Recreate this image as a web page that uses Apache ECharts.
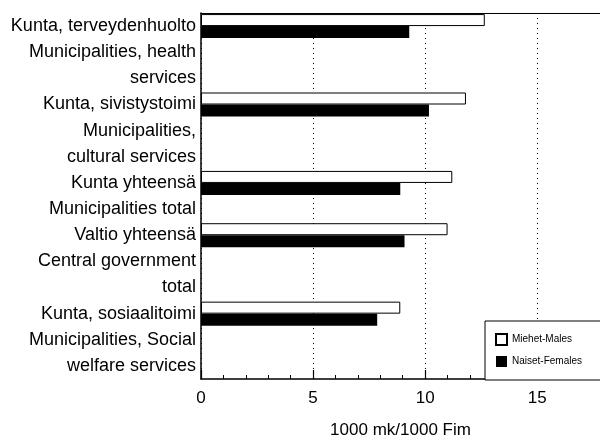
<!DOCTYPE html>
<html>
<head>
<meta charset="utf-8">
<script src="https://cdn.jsdelivr.net/npm/echarts@6/dist/echarts.min.js"></script>
<style>html,body{margin:0;padding:0;background:#fff;}#c{width:600px;height:440px;}</style>
</head>
<body>
<div id="c"></div>
<script>
const categories = [
  ["Kunta, terveydenhuolto", "Municipalities, health", "services"],
  ["Kunta, sivistystoimi", "Municipalities,", "cultural services"],
  ["Kunta yhteensä", "Municipalities total"],
  ["Valtio yhteensä", "Central government", "total"],
  ["Kunta, sosiaalitoimi", "Municipalities, Social", "welfare services"]
];
const seriesNames = ["Miehet-Males", "Naiset-Females"];
const males = [12.66, 11.82, 11.21, 11.0, 8.89];
const females = [9.29, 10.17, 8.89, 9.08, 7.86];
const xTicks = [0, 5, 10, 15];
const axisTitle = "1000 mk/1000 Fim";

const FONT = "'Liberation Sans', Arial, Helvetica, sans-serif";

// Each label line is its own category row; bars sit on the first row of each group
const lines = [];
const maleData = [];
const femaleData = [];
categories.forEach((group, gi) => {
  group.forEach((ln, li) => {
    lines.push(ln);
    maleData.push(li === 0 ? males[gi] : '-');
    femaleData.push(li === 0 ? females[gi] : '-');
  });
});

const chart = echarts.init(document.getElementById('c'), null, {renderer: 'canvas'});
const xMax = 17.8;
chart.setOption({
  animation: false,
  backgroundColor: '#fff',
  textStyle: {fontFamily: FONT},
  grid: {left: 201, right: 0, top: 13, bottom: 61, containLabel: false, outerBoundsMode: 'none'},
  legend: {
    data: seriesNames.map(n => ({name: n, icon: 'rect'})),
    orient: 'vertical',
    left: 485,
    top: 321,
    padding: [12, 60, 13, 10],
    itemGap: 10,
    itemWidth: 11,
    itemHeight: 11,
    borderColor: '#000',
    borderWidth: 1,
    borderRadius: 0,
    backgroundColor: '#fff',
    textStyle: {fontSize: 10, color: '#000', fontFamily: FONT},
    selectedMode: false
  },
  xAxis: [{
    type: 'value',
    position: 'bottom',
    min: 0,
    max: xMax,
    interval: 5,
    axisLine: {show: true, lineStyle: {color: '#000', width: 1.5}},
    axisTick: {show: true, inside: true, length: 9, lineStyle: {color: '#000', width: 1.2}},
    minorTick: {show: true, splitNumber: 5, length: 4, lineStyle: {color: '#000', width: 1}},
    axisLabel: {
      fontSize: 17, color: '#000', margin: 11, fontFamily: FONT,
      showMaxLabel: false,
      formatter: v => (xTicks.indexOf(v) >= 0 ? String(v) : '')
    },
    splitLine: {show: true, lineStyle: {color: '#000', type: [1, 4], width: 1}},
    name: axisTitle,
    nameLocation: 'middle',
    nameGap: 43,
    nameTextStyle: {fontSize: 17, color: '#000', fontFamily: FONT}
  }, {
    type: 'value',
    position: 'top',
    min: 0,
    max: xMax,
    interval: 5,
    axisLine: {show: true, lineStyle: {color: '#000', width: 1}},
    axisTick: {show: false},
    axisLabel: {show: false},
    splitLine: {show: false}
  }],
  yAxis: {
    type: 'category',
    inverse: true,
    data: lines,
    axisLine: {show: true, lineStyle: {color: '#000', width: 1.5}},
    axisTick: {show: false},
    axisLabel: {fontSize: 18, color: '#000', margin: 5, interval: 0, fontFamily: FONT, padding: [0, 0, 3, 0]},
    splitLine: {show: false}
  },
  series: [{
    name: seriesNames[0],
    type: 'bar',
    xAxisIndex: 0,
    data: maleData,
    barWidth: 12,
    barGap: '0%',
    itemStyle: {color: '#fff', borderColor: '#000', borderWidth: 1}
  }, {
    name: seriesNames[1],
    type: 'bar',
    xAxisIndex: 0,
    data: femaleData,
    barWidth: 12,
    barGap: '0%',
    itemStyle: {color: '#000', borderColor: '#000', borderWidth: 0}
  }]
});
</script>
</body>
</html>
